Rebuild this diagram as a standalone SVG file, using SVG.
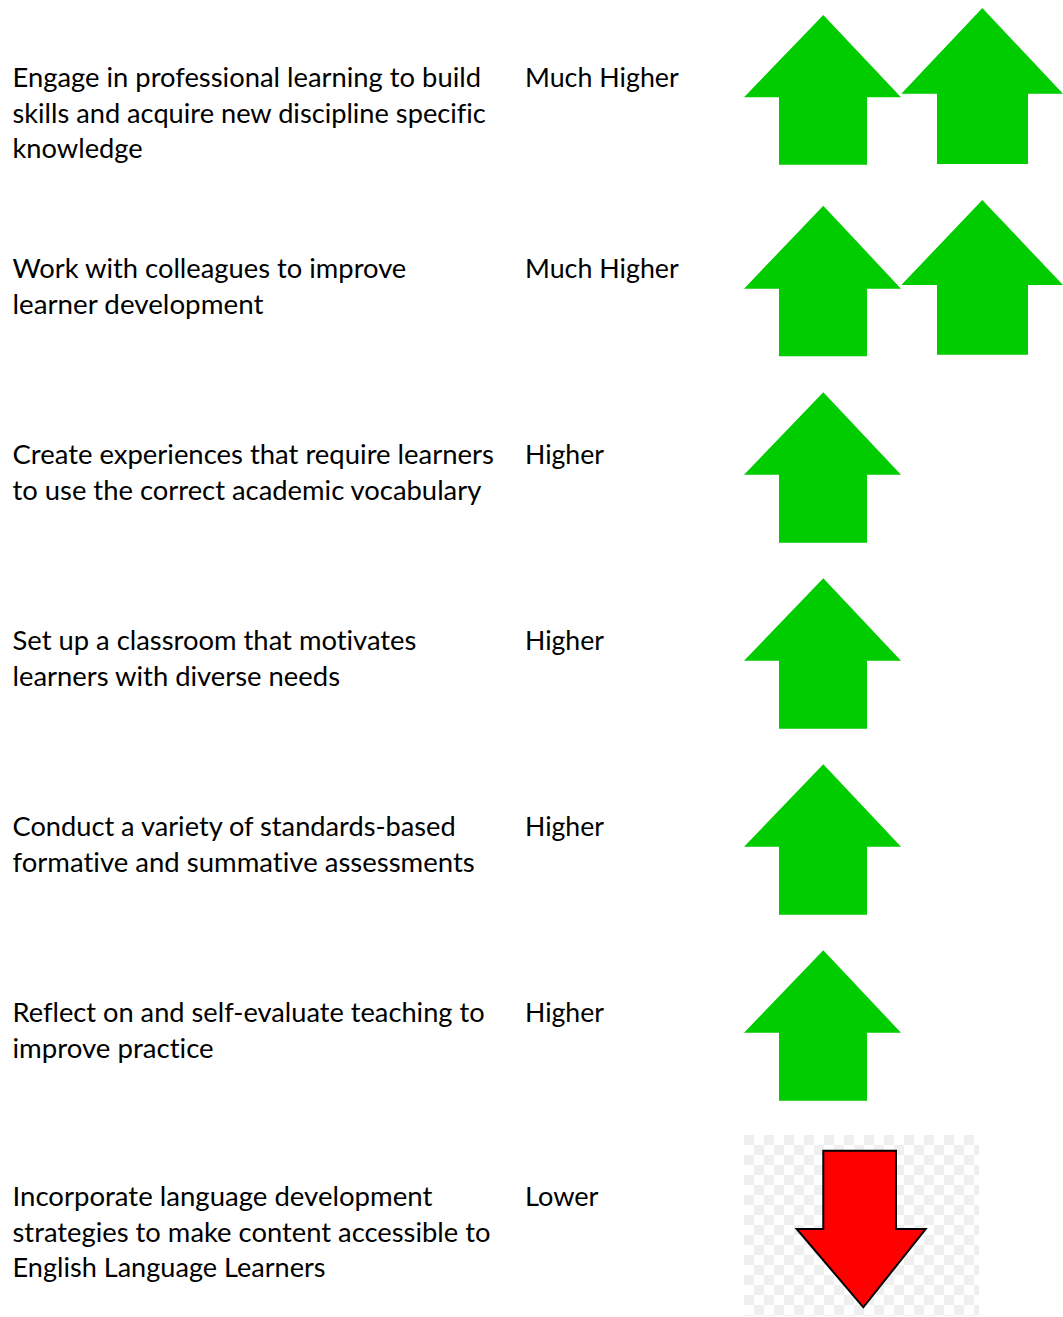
<svg xmlns="http://www.w3.org/2000/svg" width="1063" height="1317" viewBox="0 0 1063 1317">
<style>
  text { font-family: Lato, "Open Sans", "Liberation Sans", sans-serif; font-size: 26.5px; fill: #000; font-variant-ligatures: none; }
  .up { fill: #00CC00; }
  .down { fill: #FF0000; stroke: #000; stroke-width: 2; stroke-linejoin: miter; }
</style>
<defs>
  <pattern id="checker" x="744" y="1135" width="20" height="20" patternUnits="userSpaceOnUse">
    <rect width="20" height="20" fill="#ffffff"/>
    <rect width="10" height="10" fill="#efefef"/>
    <rect x="10" y="10" width="10" height="10" fill="#efefef"/>
  </pattern>
</defs>
<rect width="1063" height="1317" fill="#ffffff"/>

<g id="row1">
  <text x="12.5" y="87" textLength="468.5" lengthAdjust="spacingAndGlyphs">Engage in professional learning to build</text>
  <text x="12.5" y="122.5" textLength="473.3" lengthAdjust="spacingAndGlyphs">skills and acquire new discipline specific</text>
  <text x="12.5" y="158" textLength="130.2" lengthAdjust="spacingAndGlyphs">knowledge</text>
  <text x="525" y="87" textLength="153.8" lengthAdjust="spacingAndGlyphs">Much Higher</text>
  <polygon class="up" points="823.3,15 901,97.3 867,97.3 867,164.7 779,164.7 779,97.3 744,97.3"/>
  <polygon class="up" points="982.3,8 1063,93.7 1028,93.7 1028,164 937,164 937,93.7 901.3,93.7"/>
</g>

<g id="row2">
  <text x="12.5" y="278.3" textLength="393.8" lengthAdjust="spacingAndGlyphs">Work with colleagues to improve</text>
  <text x="12.5" y="313.8" textLength="250.9" lengthAdjust="spacingAndGlyphs">learner development</text>
  <text x="525" y="278.3" textLength="153.8" lengthAdjust="spacingAndGlyphs">Much Higher</text>
  <polygon class="up" points="823.3,205.7 901,288.7 867,288.7 867,356.3 779,356.3 779,288.7 744,288.7"/>
  <polygon class="up" points="982.3,200 1063,285 1028,285 1028,354.7 937,354.7 937,285 901.3,285"/>
</g>

<g id="row3">
  <text x="12.5" y="464" textLength="481.3" lengthAdjust="spacingAndGlyphs">Create experiences that require learners</text>
  <text x="12.5" y="499.5" textLength="468.8" lengthAdjust="spacingAndGlyphs">to use the correct academic vocabulary</text>
  <text x="525" y="464" textLength="79" lengthAdjust="spacingAndGlyphs">Higher</text>
  <polygon class="up" points="823.3,392.3 901,474.7 867,474.7 867,542.7 779,542.7 779,474.7 744,474.7"/>
</g>

<g id="row4">
  <text x="12.5" y="650" textLength="403.9" lengthAdjust="spacingAndGlyphs">Set up a classroom that motivates</text>
  <text x="12.5" y="685.5" textLength="327.5" lengthAdjust="spacingAndGlyphs">learners with diverse needs</text>
  <text x="525" y="650" textLength="79" lengthAdjust="spacingAndGlyphs">Higher</text>
  <polygon class="up" points="823.3,578.3 901,660.7 867,660.7 867,728.7 779,728.7 779,660.7 744,660.7"/>
</g>

<g id="row5">
  <text x="12.5" y="836" textLength="443.2" lengthAdjust="spacingAndGlyphs">Conduct a variety of standards-based</text>
  <text x="12.5" y="871.5" textLength="462.2" lengthAdjust="spacingAndGlyphs">formative and summative assessments</text>
  <text x="525" y="836" textLength="79" lengthAdjust="spacingAndGlyphs">Higher</text>
  <polygon class="up" points="823.3,764.3 901,846.7 867,846.7 867,914.7 779,914.7 779,846.7 744,846.7"/>
</g>

<g id="row6">
  <text x="12.5" y="1022" textLength="472.1" lengthAdjust="spacingAndGlyphs">Reflect on and self-evaluate teaching to</text>
  <text x="12.5" y="1057.5" textLength="201.2" lengthAdjust="spacingAndGlyphs">improve practice</text>
  <text x="525" y="1022" textLength="79" lengthAdjust="spacingAndGlyphs">Higher</text>
  <polygon class="up" points="823.3,950.3 901,1032.7 867,1032.7 867,1100.7 779,1100.7 779,1032.7 744,1032.7"/>
</g>

<g id="row7">
  <text x="12.5" y="1206" textLength="419.8" lengthAdjust="spacingAndGlyphs">Incorporate language development</text>
  <text x="12.5" y="1241.5" textLength="478" lengthAdjust="spacingAndGlyphs">strategies to make content accessible to</text>
  <text x="12.5" y="1277" textLength="313.1" lengthAdjust="spacingAndGlyphs">English Language Learners</text>
  <text x="525" y="1206" textLength="73.5" lengthAdjust="spacingAndGlyphs">Lower</text>
  <rect x="744" y="1135" width="235" height="181" fill="url(#checker)"/>
  <polygon class="down" points="823.3,1150.7 896,1150.7 896,1229 925.7,1229 863.3,1307.3 796.7,1229 823.3,1229"/>
</g>
</svg>
